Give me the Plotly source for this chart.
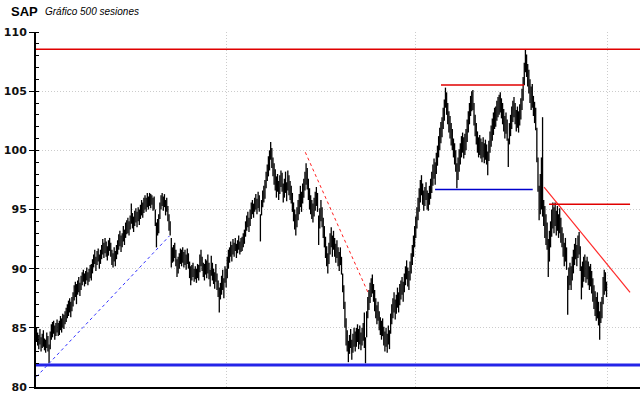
import plotly.graph_objects as go

# ---------------- data ----------------
lows = [
    83.8, 83.5, 83.2, 83.6, 83.0, 83.3, 83.4, 83.1, 82.9, 83.3, 83.0, 82.0, 83.2, 84.0, 84.2, 84.5, 84.0, 84.3, 84.6, 84.3,
    84.4, 84.8, 84.6, 85.0, 84.9, 85.3, 85.5, 85.8, 86.0, 86.3, 85.9, 86.4, 86.8, 87.3, 87.6, 87.0, 87.8, 88.0, 87.7, 88.2,
    88.6, 88.9, 88.5, 88.7, 89.0, 88.6, 88.9, 89.2, 89.0, 89.6, 90.1, 90.4, 89.8, 90.3, 90.6, 90.0, 90.4, 90.8, 91.2, 90.9,
    91.3, 91.0, 90.7, 91.1, 91.5, 91.0, 90.3, 90.1, 90.6, 90.2, 90.8, 91.2, 91.6, 91.9, 91.4, 91.8, 92.3, 92.0, 92.6, 92.9,
    93.0, 92.8, 93.3, 93.8, 93.4, 93.1, 93.6, 93.9, 93.5, 94.0, 93.7, 94.2, 94.5, 94.3, 94.7, 95.0, 94.8, 95.2, 95.0, 95.3,
    95.1, 95.4, 94.9, 95.0, 93.6, 91.8, 92.8, 93.0, 94.2, 95.0, 95.3, 94.9, 95.2, 94.5, 94.8, 94.0, 93.2, 92.8, 90.1, 90.5,
    90.6, 90.9, 90.2, 89.3, 89.6, 90.0, 90.4, 90.2, 90.5, 90.1, 90.3, 89.9, 90.4, 90.0, 89.2, 88.6, 89.0, 89.3, 88.9, 89.1,
    88.8, 89.2, 89.0, 89.7, 90.2, 89.8, 89.3, 89.0, 89.5, 89.2, 89.6, 89.1, 88.5, 89.4, 89.0, 88.7, 88.3, 88.9, 88.2, 87.6,
    86.3, 87.4, 87.8, 88.2, 87.5, 88.8, 88.4, 89.2, 90.0, 90.5, 91.0, 90.6, 91.2, 91.0, 91.5, 90.9, 91.3, 91.6, 91.2, 91.4,
    91.5, 91.8, 92.1, 92.7, 93.2, 93.5, 93.1, 93.6, 94.2, 94.6, 94.3, 94.8, 95.0, 94.6, 95.1, 94.8, 92.3, 94.5, 95.2, 95.6,
    95.9, 96.8, 97.4, 97.8, 98.3, 99.2, 98.5, 97.8, 97.1, 96.6, 96.0, 96.5, 95.8, 96.3, 96.9, 96.5, 95.6, 96.0, 96.4, 95.7,
    96.6, 96.2, 95.8, 95.5, 94.8, 94.0, 93.3, 92.8, 93.5, 94.1, 94.6, 95.2, 94.8, 95.5, 96.0, 96.6, 97.1, 96.7, 95.8, 95.0,
    94.6, 94.2, 93.9, 94.4, 94.9, 95.3, 94.8, 92.0, 93.4, 94.0, 93.5, 92.6, 91.8, 90.9, 90.2, 89.6, 90.4, 91.2, 91.8, 91.0,
    91.6, 91.0, 90.5, 90.9, 90.2, 89.8, 90.3, 89.5, 88.0, 86.6, 85.0, 83.5, 83.0, 82.1, 82.8, 83.3, 82.3, 82.9, 83.4, 83.0,
    83.4, 83.8, 83.2, 83.6, 83.1, 83.5, 83.9, 83.3, 82.0, 84.2, 85.8, 86.5, 87.1, 87.6, 87.9, 87.2, 86.4, 85.8, 85.3, 85.6,
    84.8, 84.4, 84.0, 84.3, 83.5, 83.0, 83.4, 82.9, 83.6, 83.2, 84.5, 85.3, 85.8, 86.3, 85.7, 86.2, 86.7, 86.3, 86.9, 87.4,
    87.8, 87.2, 88.0, 88.6, 89.1, 88.5, 88.2, 89.0, 89.6, 90.3, 91.0, 91.8, 92.6, 93.4, 94.1, 94.8, 95.6, 96.2, 95.4, 94.9,
    95.3, 95.8, 95.0, 94.9, 95.4, 95.9, 96.4, 97.0, 97.6, 97.1, 98.0, 98.7, 99.4, 100.0, 100.6, 101.1, 101.8, 102.5, 103.6, 103.0,
    102.2, 101.5, 101.0, 100.4, 100.0, 99.4, 98.8, 98.2, 96.8, 97.5, 98.2, 98.8, 99.4, 99.8, 99.3, 99.6, 100.0, 100.7, 101.5, 102.2,
    102.9, 103.3, 103.4, 102.1, 101.2, 100.5, 99.8, 99.4, 99.6, 99.3, 99.0, 99.4, 98.9, 99.2, 98.8, 97.9, 99.1, 99.8, 100.3, 100.8,
    101.3, 101.8, 102.0, 102.5, 102.8, 103.0, 103.2, 102.7, 102.2, 101.6, 101.0, 101.4, 100.8, 98.6, 100.5, 101.2, 101.8, 102.4, 102.8, 102.2,
    101.6, 101.9, 101.5, 102.1, 102.6, 103.4, 104.2, 105.5, 106.6, 106.2, 105.4, 104.8, 104.0, 103.4, 103.6, 102.9, 102.3, 101.7, 99.0, 96.5,
    94.1, 94.6, 95.0, 94.4, 93.6, 92.6, 92.0, 91.6, 89.3, 90.6, 91.8, 92.7, 93.4, 93.0, 93.6, 92.8, 93.2, 92.6, 93.0, 92.2,
    91.8, 91.0, 90.2, 90.6, 89.9, 86.1, 88.2, 88.6, 88.2, 89.0, 89.6, 90.3, 90.8, 90.2, 90.9, 91.2, 89.8, 87.4, 88.4, 88.9,
    89.3, 88.8, 89.1, 88.6, 88.2, 88.5, 87.9, 87.2, 86.6, 86.0, 85.6, 85.8, 85.2, 84.0, 85.4, 85.8, 87.0, 87.8, 88.1, 87.6,
]
highs = [
    85.0, 84.6, 84.4, 84.9, 84.2, 84.5, 84.8, 84.1, 84.0, 84.6, 84.3, 83.6, 84.7, 85.3, 85.5, 85.6, 85.2, 85.4, 85.7, 85.4,
    85.6, 86.0, 85.8, 86.2, 86.1, 86.4, 86.7, 87.0, 87.3, 87.5, 87.2, 87.6, 88.0, 88.6, 88.9, 88.7, 89.0, 89.3, 88.8, 89.4,
    89.7, 89.9, 89.6, 89.8, 90.1, 89.7, 90.0, 90.3, 90.4, 90.8, 91.2, 91.6, 91.0, 91.5, 91.7, 91.2, 91.6, 92.0, 92.5, 92.2,
    92.6, 92.3, 91.9, 92.4, 92.6, 92.2, 91.6, 91.3, 91.8, 91.5, 92.0, 92.4, 92.9, 93.2, 92.8, 93.0, 93.6, 93.3, 93.9, 94.1,
    94.3, 94.0, 94.5, 95.5, 94.7, 94.4, 94.9, 95.1, 94.8, 95.2, 95.0, 95.4, 95.8, 95.6, 96.0, 96.2, 96.0, 96.4, 96.1, 96.4,
    96.3, 96.2, 96.0, 96.1, 95.0, 93.9, 94.2, 94.6, 95.6, 96.2, 96.4, 96.1, 96.3, 95.8, 96.0, 95.3, 94.6, 94.0, 92.6, 91.8,
    92.0, 92.2, 91.6, 90.8, 91.0, 91.3, 91.7, 91.6, 91.8, 91.4, 91.6, 91.2, 91.7, 91.3, 90.6, 90.2, 90.3, 90.5, 90.0, 90.2,
    90.0, 90.4, 90.3, 91.2, 91.6, 91.0, 90.5, 90.4, 90.8, 90.7, 91.2, 90.5, 89.9, 91.1, 90.5, 90.0, 89.7, 90.4, 89.6, 89.0,
    88.4, 88.8, 89.4, 89.9, 89.2, 90.2, 90.0, 91.0, 91.6, 91.8, 92.3, 92.0, 92.5, 92.2, 92.6, 92.1, 92.4, 92.8, 92.3, 92.6,
    92.7, 93.0, 93.3, 94.0, 94.5, 94.8, 94.3, 95.0, 95.6, 95.8, 95.5, 96.0, 96.3, 95.9, 96.5, 96.2, 94.6, 95.8, 96.6, 97.0,
    97.5, 98.2, 98.8, 99.5, 100.0, 100.7, 100.2, 99.4, 98.9, 98.4, 97.8, 98.0, 97.4, 97.9, 98.3, 98.1, 97.2, 97.6, 98.2, 97.3,
    98.3, 97.9, 97.4, 97.0, 96.4, 95.6, 95.0, 94.6, 95.2, 95.8, 96.3, 97.0, 96.5, 97.2, 97.6, 98.2, 98.9, 98.5, 97.6, 96.8,
    96.2, 95.8, 95.5, 96.0, 96.5, 96.9, 96.4, 94.5, 95.1, 95.8, 95.2, 94.3, 93.6, 92.7, 91.9, 91.3, 92.2, 93.0, 93.5, 92.8,
    93.2, 92.6, 92.1, 92.4, 91.8, 91.4, 91.8, 91.0, 89.6, 88.6, 87.2, 85.8, 84.8, 83.9, 84.4, 84.9, 84.0, 84.5, 85.0, 84.7,
    85.0, 85.3, 84.9, 85.2, 84.6, 85.0, 85.4, 86.3, 84.2, 86.4, 87.6, 88.2, 88.8, 89.2, 89.5, 88.7, 88.2, 87.5, 86.9, 87.2,
    86.4, 85.9, 85.6, 85.8, 85.1, 84.7, 85.0, 84.5, 85.2, 84.8, 86.2, 87.0, 87.5, 88.0, 87.4, 87.8, 88.4, 88.0, 88.7, 89.0,
    89.3, 88.9, 89.6, 90.2, 90.7, 90.1, 89.8, 90.6, 91.3, 92.0, 92.8, 93.6, 94.4, 95.2, 96.0, 96.8, 97.5, 97.9, 97.2, 96.6,
    96.9, 97.3, 96.6, 96.4, 97.0, 97.6, 98.2, 98.8, 99.3, 99.0, 99.8, 100.4, 101.2, 101.9, 102.4, 102.8, 103.6, 104.3, 105.3, 104.9,
    104.0, 103.3, 102.9, 102.3, 101.8, 101.0, 100.6, 100.0, 98.9, 99.4, 100.1, 100.6, 101.2, 101.5, 101.1, 101.4, 101.8, 102.6, 103.3, 104.0,
    104.6, 105.0, 105.1, 104.0, 103.0, 102.3, 101.6, 101.1, 101.3, 101.0, 100.7, 101.1, 100.6, 100.9, 100.5, 99.9, 100.8, 101.6, 102.1, 102.7,
    103.2, 103.6, 103.7, 104.2, 104.5, 104.7, 104.9, 104.4, 104.0, 103.5, 102.9, 103.2, 102.6, 101.0, 102.3, 103.0, 103.7, 104.2, 104.5, 104.0,
    103.4, 103.7, 103.3, 103.9, 104.4, 105.2, 106.2, 107.4, 108.5, 108.1, 107.3, 106.8, 106.0, 105.4, 105.6, 104.6, 104.1, 103.6, 101.9, 99.4,
    97.0, 98.0, 99.4, 102.8, 95.8, 95.3, 94.6, 93.9, 92.5, 93.2, 94.0, 95.0, 95.6, 95.2, 95.6, 94.9, 95.3, 94.6, 95.1, 94.3,
    93.5, 93.0, 92.2, 92.6, 91.8, 89.4, 90.1, 90.5, 90.2, 91.0, 91.6, 92.1, 92.6, 92.0, 92.8, 93.1, 91.9, 90.2, 90.6, 91.0,
    91.2, 90.7, 91.0, 90.6, 90.2, 90.4, 89.8, 89.2, 88.6, 88.1, 87.6, 88.0, 87.2, 86.4, 87.2, 87.6, 89.3, 89.9, 89.7, 88.9,
]
sessions = list(range(len(lows)))

# analysis lines (session, price)
support_level = 81.85
resistance_level = 108.54
blue_trend_x = [0, 116.3]
blue_trend_y = [80.87, 92.76]
red_dash_x = [235.3, 290.5]
red_dash_y = [99.84, 87.92]
range_top_x = [354.1, 426.8]
range_top_y = [105.53, 105.53]
range_bot_x = [348.9, 434.4]
range_bot_y = [96.70, 96.70]
red_trend_x = [444.3, 519.6]
red_trend_y = [96.9, 88.0]
red_level_x = [448.7, 519.6]
red_level_y = [95.45, 95.45]

grid_sessions = [166.5, 331.5, 500.0]
y_ticks = [80, 85, 90, 95, 100, 105, 110]

X_RANGE = [-0.44, 528.3]

# ---------------- figure ----------------
fig = go.Figure()

bx, by = [], []
for s, lo, hi in zip(sessions, lows, highs):
    bx += [s, s, None]
    by += [lo, hi, None]
fig.add_trace(go.Scatter(x=bx, y=by, mode="lines",
                         line=dict(color="black", width=1.3),
                         hoverinfo="skip", showlegend=False))

def seg(x, y, color, width, dash="solid"):
    fig.add_trace(go.Scatter(x=x, y=y, mode="lines",
                             line=dict(color=color, width=width, dash=dash),
                             hoverinfo="skip", showlegend=False))

seg(X_RANGE, [support_level, support_level], "#2424e8", 3)
seg(X_RANGE, [resistance_level, resistance_level], "#e00000", 1.5)
seg(blue_trend_x, blue_trend_y, "#3030ff", 1, "dot")
seg(red_dash_x, red_dash_y, "#ff2020", 1, "dot")
seg(range_top_x, range_top_y, "#e00000", 1.5)
seg(range_bot_x, range_bot_y, "#0000cc", 1.5)
seg(red_trend_x, red_trend_y, "#ff2a2a", 1.2)
seg(red_level_x, red_level_y, "#e00000", 1.5)

GRID = dict(showgrid=True, gridcolor="#cccccc", griddash="1px,2px", gridwidth=1)

fig.update_layout(
    width=640, height=398,
    margin=dict(l=36, r=0, t=32, b=11, pad=0),
    paper_bgcolor="white", plot_bgcolor="white",
    showlegend=False,
    xaxis=dict(range=X_RANGE, showline=True, linecolor="black", linewidth=2,
               tickmode="array", tickvals=grid_sessions, showticklabels=False,
               ticks="", zeroline=False, fixedrange=True, **GRID),
    yaxis=dict(range=[80, 110], showline=True, linecolor="black", linewidth=2,
               tickmode="array", tickvals=y_ticks, ticks="outside", ticklen=5,
               tickcolor="black", tickwidth=1,
               tickfont=dict(family="DejaVu Sans", size=11, color="#111", weight="bold"),
               minor=dict(dtick=1, ticks="inside", ticklen=3, tickcolor="black",
                          tickwidth=1, showgrid=False),
               zeroline=False, fixedrange=True, **GRID),
    annotations=[
        dict(text="<b>SAP</b>", xref="paper", yref="paper", x=-36/604, y=1 + 21/355,
             xanchor="left", yanchor="middle", showarrow=False,
             font=dict(family="Liberation Sans", size=13, color="black"), xshift=9),
        dict(text="<i>Gráfico 500 sesiones</i>", xref="paper", yref="paper", x=-36/604, y=1 + 21/355,
             xanchor="left", yanchor="middle", showarrow=False,
             font=dict(family="Liberation Sans", size=10, color="black"), xshift=43),
    ],
)

fig.write_html("out.html")
